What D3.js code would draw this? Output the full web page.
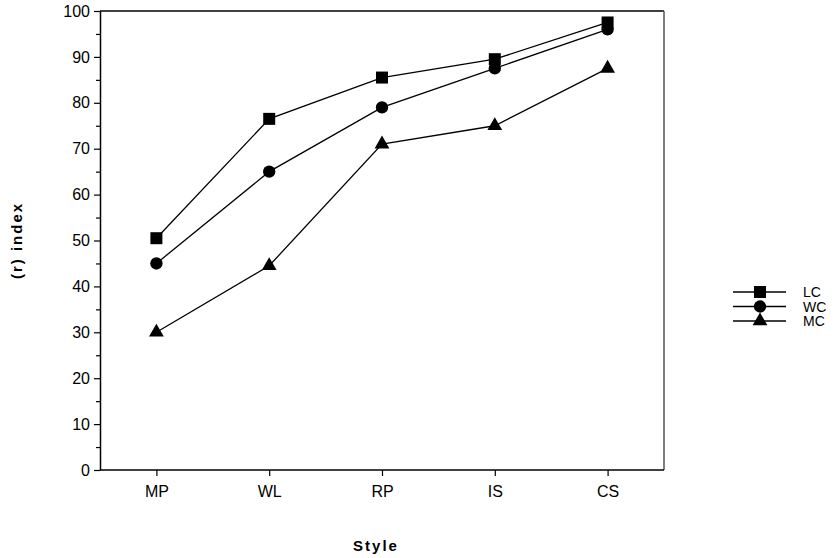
<!DOCTYPE html>
<html>
<head>
<meta charset="utf-8">
<script src="https://cdn.jsdelivr.net/npm/d3@7"></script>
<style>
  body { margin: 0; background: #fff; }
  text { font-family: "Liberation Sans", Arial, sans-serif; }
</style>
</head>
<body>
<div class="vis-container"></div>
<script>
const styles = ['MP', 'WL', 'RP', 'IS', 'CS'];
const lcValues = [50.5, 76.5, 85.5, 89.5, 97.5];
const wcValues = [45, 65, 79, 87.5, 96];
const mcValues = [30, 44.5, 71, 75, 87.5];
const seriesNames = ['LC', 'WC', 'MC'];
const yTicks = [0, 10, 20, 30, 40, 50, 60, 70, 80, 90, 100];

document.addEventListener('DOMContentLoaded', () => {
  buildChart();
});

function buildChart() {
  const width = 838;
  const height = 558;
  const margin = {left: 100, right: 174, top: 11, bottom: 88};

  const svg = d3.select('.vis-container').append('svg')
    .attr('width', width)
    .attr('height', height);

  const x = d3.scalePoint().domain(styles)
    .range([margin.left, width - margin.right]).padding(0.5);
  const y = d3.scaleLinear().domain([0, 100])
    .range([height - margin.bottom, margin.top]);

  const symbols = {LC: d3.symbolSquare, WC: d3.symbolCircle, MC: d3.symbolTriangle};
  const sizes = {LC: 144, WC: 120, MC: 95};
  const series = [
    {name: 'LC', values: lcValues},
    {name: 'WC', values: wcValues},
    {name: 'MC', values: mcValues}
  ];

  // frame
  svg.append('line')
    .attr('x1', x.range()[0]).attr('x2', x.range()[1])
    .attr('y1', y(100)).attr('y2', y(100))
    .attr('stroke', '#000').attr('stroke-width', 1.5);
  svg.append('line')
    .attr('x1', x.range()[1]).attr('x2', x.range()[1])
    .attr('y1', y(100)).attr('y2', y(0))
    .attr('stroke', '#555').attr('stroke-width', 1.5);

  // y axis
  svg.append('g')
    .attr('transform', `translate(${margin.left},0)`)
    .call(d3.axisLeft(y).tickValues(d3.range(5, 100, 10)).tickSize(4).tickFormat(''))
    .call(g => g.select('.domain').remove())
    .call(g => g.selectAll('line').attr('stroke-width', 1.2));
  svg.append('g')
    .attr('transform', `translate(${margin.left},0)`)
    .call(d3.axisLeft(y).tickValues(yTicks).tickSize(6).tickSizeOuter(0).tickPadding(4))
    .call(g => g.select('.domain').attr('stroke-width', 1.5))
    .call(g => g.selectAll('line').attr('stroke-width', 1.2))
    .call(g => g.selectAll('text').attr('font-size', 16).attr('fill', '#000')
      .attr('font-family', '"Liberation Sans", Arial, sans-serif'));

  // x axis
  svg.append('g')
    .attr('transform', `translate(0,${y(0)})`)
    .call(d3.axisBottom(x).tickSize(6).tickSizeOuter(0).tickPadding(10))
    .call(g => g.select('.domain').attr('stroke-width', 1.5)
      .attr('d', `M${x.range()[0]},0H${x.range()[1]}`))
    .call(g => g.selectAll('line').attr('stroke-width', 1.2))
    .call(g => g.selectAll('text').attr('font-size', 16).attr('fill', '#000')
      .attr('font-family', '"Liberation Sans", Arial, sans-serif'));

  const line = d3.line().x((d, i) => x(styles[i])).y(d => y(d));

  series.forEach(s => {
    svg.append('path')
      .attr('d', line(s.values))
      .attr('fill', 'none')
      .attr('stroke', '#000')
      .attr('stroke-width', 1.3);
    svg.selectAll('.pt-' + s.name).data(s.values)
      .enter().append('path')
        .attr('class', 'pt-' + s.name)
        .attr('transform', (d, i) => `translate(${x(styles[i])},${y(d)})`)
        .attr('d', d3.symbol().type(symbols[s.name]).size(sizes[s.name]))
        .attr('fill', '#000');
  });

  // axis titles
  svg.append('text')
    .attr('transform', `translate(22,${(y(0) + y(100)) / 2}) rotate(-90)`)
    .attr('text-anchor', 'middle')
    .attr('font-size', 15)
    .attr('font-weight', 'bold')
    .attr('letter-spacing', 2)
    .text('(r) index');
  svg.append('text')
    .attr('x', 376)
    .attr('y', 551)
    .attr('text-anchor', 'middle')
    .attr('font-size', 15)
    .attr('font-weight', 'bold')
    .attr('letter-spacing', 2)
    .text('Style');

  // legend
  const legend = svg.selectAll('.legend').data(seriesNames)
    .enter().append('g')
      .attr('class', 'legend')
      .attr('transform', (d, i) => `translate(733,${292 + i * 14.5})`);
  legend.append('line')
    .attr('x1', 0).attr('x2', 53)
    .attr('stroke', '#000').attr('stroke-width', 1.3);
  legend.append('path')
    .attr('transform', 'translate(27,0)')
    .attr('d', d => d3.symbol().type(symbols[d]).size(sizes[d])())
    .attr('fill', '#000');
  legend.append('text')
    .attr('x', 70)
    .attr('y', 5)
    .attr('font-size', 14)
    .text(d => d);
}
</script>
</body>
</html>
